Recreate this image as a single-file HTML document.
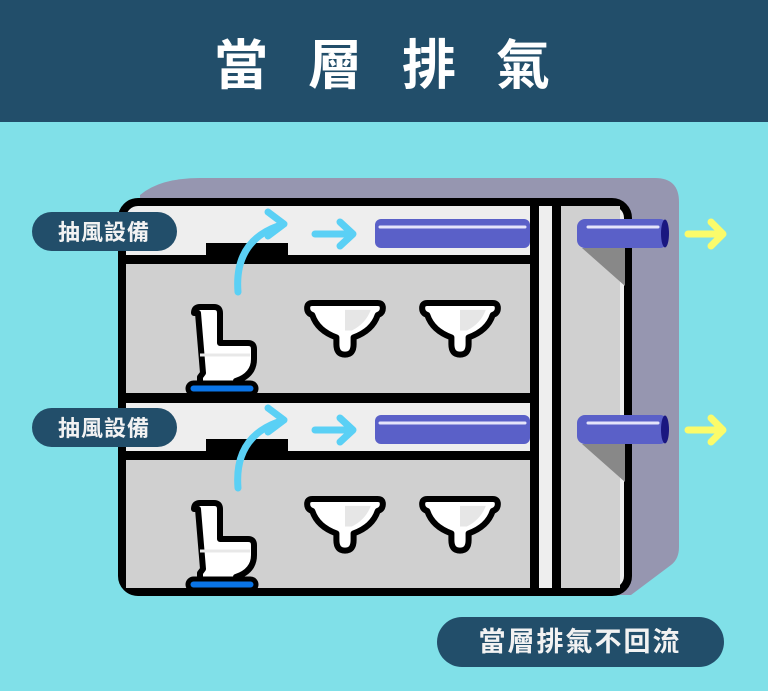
<!DOCTYPE html>
<html><head><meta charset="utf-8"><style>
html,body{margin:0;padding:0;width:768px;height:691px;overflow:hidden;background:#80e0e8}
svg{display:block}
text{font-family:"Liberation Sans","Noto Sans CJK TC",sans-serif;font-weight:bold}
</style></head><body>
<svg width="768" height="691" viewBox="0 0 768 691" xmlns="http://www.w3.org/2000/svg">
<defs>
<g id="toilet">
 <path d="M-6,-72 q0,-6 6,-6 h14 q6,0 6,6 v30 h28 q6,0 6,6 v10 q0,16 -18,22 v12 h-32 l-4,-6 v-10 l3,-4 -5,-60z" fill="#fff" stroke="#000" stroke-width="6" stroke-linejoin="round"/>
 <path d="M0,-30 h50" stroke="#e8e8e8" stroke-width="3"/>
 <rect x="-12" y="-2" width="68" height="11" rx="5.5" fill="#0a74e6" stroke="#000" stroke-width="5"/>
</g>
<g id="sink">
 <g transform="scale(0.86)">
 <path d="M-38,0 h76 q6,0 6,6 q0,6 -6,8 q-6,18 -28,26 v8 q0,12 -10,12 q-10,0 -10,-12 v-8 q-22,-8 -28,-26 q-6,-2 -6,-8 q0,-6 6,-6z" fill="#fff" stroke="#000" stroke-width="7" stroke-linejoin="round"/>
 <path d="M0,8 h30 q-6,16 -22,24 h-8z" fill="#e6e6e6"/>
 </g>
</g>
<g id="floorTop">
 <rect x="206" y="243" width="82" height="14" fill="#000"/>
 <path d="M238,292 q-4,-50 40,-66" fill="none" stroke="#5ad0f5" stroke-width="7" stroke-linecap="round"/>
 <path d="M268,212 l16,12 -16,12" fill="none" stroke="#5ad0f5" stroke-width="7" stroke-linecap="round" stroke-linejoin="round"/>
 <path d="M315,234 h36 M340,222 l13,12 -13,12" fill="none" stroke="#5ad0f5" stroke-width="7" stroke-linecap="round" stroke-linejoin="round"/>
 <rect x="375" y="219" width="155" height="29" rx="6" fill="#5a60c8"/>
 <line x1="380" y1="227" x2="525" y2="227" stroke="#e4e4fa" stroke-width="3" stroke-linecap="round"/>
 <path d="M582,248 h43 v38z" fill="#888"/>
 <rect x="577" y="219" width="91" height="29" rx="8" fill="#5a60c8"/>
 <ellipse cx="665" cy="233.5" rx="4" ry="14" fill="#1a1780"/>
 <line x1="588" y1="227" x2="658" y2="227" stroke="#e4e4fa" stroke-width="3" stroke-linecap="round"/>
 <path d="M688,234 h34 M711,222 l12,12 -12,12" fill="none" stroke="#fbfb6a" stroke-width="7" stroke-linecap="round" stroke-linejoin="round"/>
 <rect x="32" y="212" width="145" height="39" rx="19.5" fill="#224e6a"/>
 <text x="104" y="240" fill="#f2f2f2" font-size="22" text-anchor="middle" letter-spacing="1">抽風設備</text>
 <use href="#toilet" x="200" y="385"/>
 <use href="#sink" x="345" y="303"/>
 <use href="#sink" x="460" y="303"/>
</g>
</defs>
<rect x="0" y="0" width="768" height="122" fill="#224e6a"/>
<text x="402" y="84" fill="#fff" font-size="54" text-anchor="middle" letter-spacing="40">當層排氣</text>
<path d="M140,195 q20,-17 60,-17 h455 q24,0 24,24 v345 q0,12 -8,18 l-40,30 h-480z" fill="#9696b0"/>
<rect x="122" y="202" width="506" height="390" rx="16" fill="#eeeeee" stroke="#000" stroke-width="8"/>
<rect x="126" y="264" width="404" height="129" fill="#d0d0d0"/>
<rect x="126" y="460" width="404" height="128" fill="#d0d0d0"/>
<rect x="560" y="206" width="60" height="382" fill="#d0d0d0"/>
<rect x="126" y="255" width="404" height="9" fill="#000"/>
<rect x="126" y="393" width="404" height="10" fill="#000"/>
<rect x="126" y="451" width="404" height="9" fill="#000"/>
<rect x="530" y="206" width="9" height="384" fill="#000"/>
<rect x="552" y="206" width="9" height="384" fill="#000"/>
<use href="#floorTop"/>
<use href="#floorTop" y="196"/>
<rect x="437" y="617" width="287" height="50" rx="25" fill="#224e6a"/>
<text x="580" y="651" fill="#f2f2f2" font-size="27" text-anchor="middle" letter-spacing="2">當層排氣不回流</text>
</svg>
</body></html>
